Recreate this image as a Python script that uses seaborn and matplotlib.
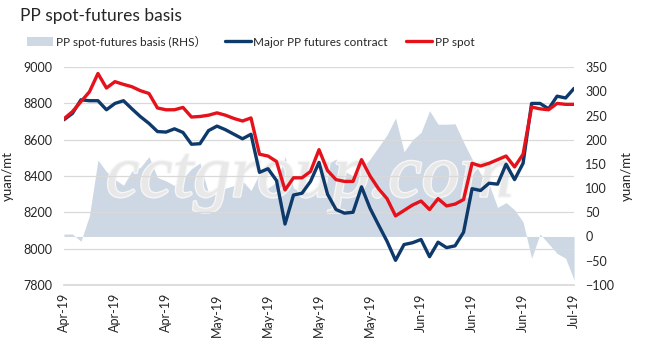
import numpy as np
import pandas as pd
import matplotlib
matplotlib.use("Agg")
import matplotlib.pyplot as plt
import matplotlib.patheffects as pe
from matplotlib.patches import Patch
from matplotlib.lines import Line2D
import seaborn as sns

# trading days Apr-1 .. Jul-1 2019 (61 points), label every 6th
tick_labels = ["Apr-19", "Apr-19", "Apr-19", "May-19", "May-19", "May-19",
               "May-19", "Jun-19", "Jun-19", "Jun-19", "Jul-19"]

spot = [8715, 8755, 8810, 8864, 8965, 8885, 8920, 8905, 8892, 8870,
        8855, 8775, 8765, 8765, 8778, 8725, 8728, 8735, 8748, 8735,
        8717, 8703, 8720, 8520, 8510, 8480, 8323, 8390, 8390, 8425,
        8545, 8430, 8380, 8370, 8370, 8490, 8400, 8330, 8275, 8180,
        8210, 8240, 8262, 8215, 8275, 8235, 8245, 8270, 8470, 8455,
        8470, 8490, 8510, 8450, 8520, 8780, 8770, 8765, 8800, 8795,
        8795]

futures = [8710, 8745, 8820, 8815, 8815, 8765, 8800, 8815, 8770, 8727,
           8690, 8645, 8642, 8660, 8640, 8575, 8578, 8650, 8675, 8655,
           8630, 8605, 8630, 8420, 8440, 8375, 8135, 8295, 8305, 8370,
           8475, 8300, 8215, 8195, 8200, 8340, 8222, 8130, 8040, 7935,
           8022, 8032, 8050, 7955, 8035, 8005, 8015, 8090, 8330, 8320,
           8360, 8355, 8465, 8380, 8470, 8800, 8800, 8770, 8840, 8830,
           8883]

basis = [5, 5, -10, 43, 158, 134, 118, 106, 135, 143,
         165, 122, 115, 105, 120, 140, 152, 90, 95, 100,
         105, 115, 95, 130, 100, 112, 165, 100, 92, 88,
         100, 150, 160, 135, 125, 140, 160, 185, 210, 245,
         175, 200, 215, 260, 232, 232, 233, 195, 160, 130,
         108, 60, 70, 55, 30, -45, 5, -15, -35, -45,
         -90]

df = pd.DataFrame({"idx": np.arange(len(spot)), "spot": spot,
                   "futures": futures, "basis": basis})

sns.set_theme(style="white")
plt.rcParams["font.family"] = ["Lato", "Noto Sans CJK SC"]

area_c = "#cdd8e4"
blue_c = "#0e3a6b"
red_c = "#e5121b"
grid_c = "#d9d9d9"
text_c = "#262626"

fig = plt.figure(figsize=(6.66, 3.61), dpi=100)
ax = fig.add_axes([0.096, 0.211, 0.766, 0.603])
ax2 = ax.twinx()

# basis area on right axis, drawn behind the lines
ax2.fill_between(df["idx"], 0, df["basis"], color=area_c, linewidth=0, zorder=1)
ax2.set_ylim(-100, 350)
ax2.set_yticks(range(-100, 351, 50))
ax.set_zorder(ax2.get_zorder() + 1)
ax.patch.set_visible(False)

# faint watermark
ax2.text(0.465, 0.505, "cctgroup.com", transform=fig.transFigure,
         ha="center", va="center", fontsize=54, color="#e8e8e8",
         family="Liberation Serif", style="italic", zorder=2,
         path_effects=[pe.withStroke(linewidth=2, foreground="#f6f6f6")])

sns.lineplot(data=df, x="idx", y="futures", ax=ax, color=blue_c, lw=2.4,
             solid_joinstyle="round", solid_capstyle="round")
sns.lineplot(data=df, x="idx", y="spot", ax=ax, color=red_c, lw=2.4,
             solid_joinstyle="round", solid_capstyle="round")

ax.set_ylim(7800, 9000)
ax.set_yticks(range(7800, 9001, 200))
ax.set_xlim(0, len(spot) - 1)
ax.set_xticks(range(0, len(spot), 6))
ax.set_xticklabels(tick_labels, rotation=90)
ax.yaxis.grid(True, color=grid_c, lw=0.9)
ax.set_axisbelow(True)

for a in (ax, ax2):
    for s in ("top", "left", "right"):
        a.spines[s].set_visible(False)
    a.spines["bottom"].set_color(grid_c)
    a.tick_params(colors=text_c, labelsize=9, length=0)
ax.tick_params(axis="x", length=4, color=grid_c, direction="out", pad=2)
ax.tick_params(axis="y", pad=8)
ax2.tick_params(axis="y", pad=8)
ax2.spines["bottom"].set_visible(False)

ax.set_xlabel("")
ax.set_ylabel("yuan/mt", fontsize=9.5, color=text_c, labelpad=7)
ax2.set_ylabel("yuan/mt", fontsize=9.5, color=text_c, labelpad=5)

fig.text(0.03, 0.955, "PP spot-futures basis", fontsize=12.5, color=text_c,
         va="center", ha="left")

handles = [Patch(facecolor=area_c, edgecolor="none"),
           Line2D([0], [0], color=blue_c, lw=2.4),
           Line2D([0], [0], color=red_c, lw=2.4)]
labels = ["PP spot-futures basis (RHS）", "Major PP futures contract", "PP spot"]
fig.legend(handles, labels, loc="center left", bbox_to_anchor=(0.025, 0.885),
           ncol=3, frameon=False, fontsize=8.5, handlelength=2.2,
           handletextpad=0.2, columnspacing=1.6, labelcolor=text_c)

fig.savefig("out.png", dpi=100)
